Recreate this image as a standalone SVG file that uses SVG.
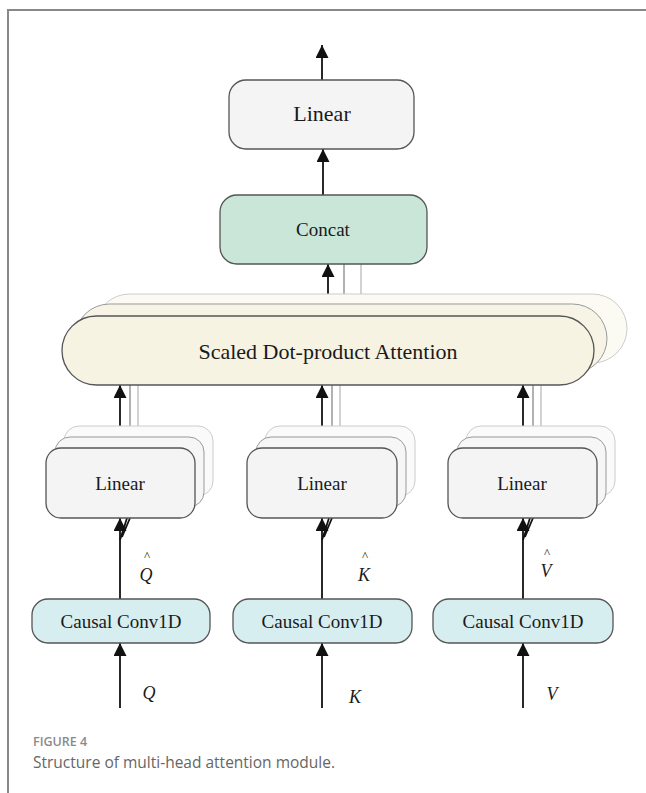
<svg xmlns="http://www.w3.org/2000/svg" width="646" height="793" viewBox="0 0 646 793">
<defs>
<style>
.box{stroke:#555;stroke-width:1.3}
.lin{fill:#f4f4f4}
.b1{fill:#f6f6f6;stroke:#999;stroke-width:1}
.b2{fill:#fafafa;stroke:#ccc;stroke-width:1}
.a1{fill:#f7f4e6;stroke:#999;stroke-width:1}
.a2{fill:#fbfaf3;stroke:#ccc;stroke-width:1}
.lbl{font-family:"Liberation Serif","Times New Roman",serif;fill:#1a1a1a;text-anchor:middle}
.var{font-family:"Liberation Serif","Times New Roman",serif;font-style:italic;fill:#1a1a1a;text-anchor:middle;font-size:18px}
.hat{font-family:"Liberation Serif",serif;fill:#1a1a1a;text-anchor:middle;font-size:13px}
.ln{stroke:#111;stroke-width:1.8;fill:none}
.g1{stroke:#888;stroke-width:1.3;fill:none}
.g2{stroke:#bbb;stroke-width:1.3;fill:none}
.cap{font-family:"Open Sans","Noto Sans",sans-serif}
</style>
<marker id="ah2" viewBox="0 0 10 10" refX="10" refY="5" markerWidth="13" markerHeight="13" markerUnits="userSpaceOnUse" orient="auto">
<path d="M0,0 L10,5 L0,10 z" fill="#111"/>
</marker>
</defs>
<rect width="646" height="793" fill="#fff"/>
<g id="frame">
<path d="M8,793 V10 H646" fill="none" stroke="#888" stroke-width="2"/>
</g>

<g id="connectors">
<line class="g1" x1="344" y1="304" x2="344" y2="264"/>
<line class="g2" x1="361" y1="294" x2="361" y2="264"/>
<line class="g1" x1="130" y1="437" x2="130" y2="385"/>
<line class="g2" x1="138" y1="426" x2="138" y2="385"/>
<line class="g1" x1="332" y1="437" x2="332" y2="385"/>
<line class="g2" x1="340" y1="426" x2="340" y2="385"/>
<line class="g1" x1="533" y1="437" x2="533" y2="385"/>
<line class="g2" x1="541" y1="426" x2="541" y2="385"/>
<line class="ln" x1="322" y1="80" x2="322" y2="45" marker-end="url(#ah2)"/>
<line class="ln" x1="323" y1="195" x2="323" y2="149" marker-end="url(#ah2)"/>
<line class="ln" x1="328" y1="316" x2="328" y2="264" marker-end="url(#ah2)"/>
<line class="ln" x1="120" y1="448" x2="120" y2="385" marker-end="url(#ah2)"/>
<line class="ln" x1="322" y1="448" x2="322" y2="385" marker-end="url(#ah2)"/>
<line class="ln" x1="523" y1="448" x2="523" y2="385" marker-end="url(#ah2)"/>
<line class="ln" x1="120" y1="599" x2="120" y2="518" marker-end="url(#ah2)"/>
<line class="ln" x1="322" y1="599" x2="322" y2="518" marker-end="url(#ah2)"/>
<line class="ln" x1="523" y1="599" x2="523" y2="518" marker-end="url(#ah2)"/>
<path class="ln" stroke-width="1.2" d="M120,540 L127,518 M122,537 L130,518"/>
<path class="ln" stroke-width="1.2" d="M322,540 L329,518 M324,537 L332,518"/>
<path class="ln" stroke-width="1.2" d="M523,540 L530,518 M525,537 L533,518"/>
<line class="ln" x1="120" y1="708" x2="120" y2="643" marker-end="url(#ah2)"/>
<line class="ln" x1="322" y1="708" x2="322" y2="643" marker-end="url(#ah2)"/>
<line class="ln" x1="523" y1="708" x2="523" y2="643" marker-end="url(#ah2)"/>
</g>

<g id="linear-out">
<rect class="box lin" x="229" y="80" width="185" height="69" rx="17"/>
<text class="lbl" x="322" y="121" font-size="22">Linear</text>
</g>

<g id="concat">
<rect class="box" fill="#c9e6d8" x="220" y="195" width="207" height="69" rx="17"/>
<text class="lbl" x="323" y="236" font-size="19">Concat</text>
</g>

<g id="attention">
<rect class="a2" x="95" y="294" width="532" height="69" rx="34.5"/>
<rect class="a1" x="75" y="304" width="532" height="69" rx="34.5"/>
<rect class="box" fill="#f6f3e3" x="62" y="316" width="532" height="69" rx="34.5"/>
<text class="lbl" x="328" y="359" font-size="22">Scaled Dot-product Attention</text>
</g>

<g id="linear-q">
<rect class="b2" x="64" y="426" width="149" height="70" rx="15"/>
<rect class="b1" x="55" y="437" width="149" height="70" rx="15"/>
<rect class="box lin" x="46" y="448" width="149" height="70" rx="15"/>
<text class="lbl" x="120" y="490" font-size="19">Linear</text>
</g>
<g id="linear-k">
<rect class="b2" x="265" y="426" width="150" height="70" rx="15"/>
<rect class="b1" x="256" y="437" width="150" height="70" rx="15"/>
<rect class="box lin" x="247" y="448" width="150" height="70" rx="15"/>
<text class="lbl" x="322" y="490" font-size="19">Linear</text>
</g>
<g id="linear-v">
<rect class="b2" x="466" y="426" width="149" height="70" rx="15"/>
<rect class="b1" x="457" y="437" width="149" height="70" rx="15"/>
<rect class="box lin" x="448" y="448" width="149" height="70" rx="15"/>
<text class="lbl" x="522" y="490" font-size="19">Linear</text>
</g>

<g id="conv-q">
<rect class="box" fill="#d7eef0" x="32" y="599" width="178" height="44" rx="16"/>
<text class="lbl" x="121" y="628" font-size="19">Causal Conv1D</text>
</g>
<g id="conv-k">
<rect class="box" fill="#d7eef0" x="233" y="599" width="179" height="44" rx="16"/>
<text class="lbl" x="322" y="628" font-size="19">Causal Conv1D</text>
</g>
<g id="conv-v">
<rect class="box" fill="#d7eef0" x="433" y="599" width="180" height="44" rx="16"/>
<text class="lbl" x="523" y="628" font-size="19">Causal Conv1D</text>
</g>

<g id="labels">
<text class="hat" x="147" y="560">^</text>
<text class="var" x="146" y="581">Q</text>
<text class="hat" x="365" y="560">^</text>
<text class="var" x="364" y="581">K</text>
<text class="hat" x="547" y="557">^</text>
<text class="var" x="546" y="577">V</text>
<text class="var" x="149" y="699">Q</text>
<text class="var" x="355" y="703">K</text>
<text class="var" x="552" y="700">V</text>
</g>

<g id="caption">
<text class="cap" x="33" y="746" font-size="12.5" font-weight="600" fill="#8a8a8a">FIGURE 4</text>
<text class="cap" x="33" y="768" font-size="15.5" fill="#666">Structure of multi-head attention module.</text>
</g>
</svg>
